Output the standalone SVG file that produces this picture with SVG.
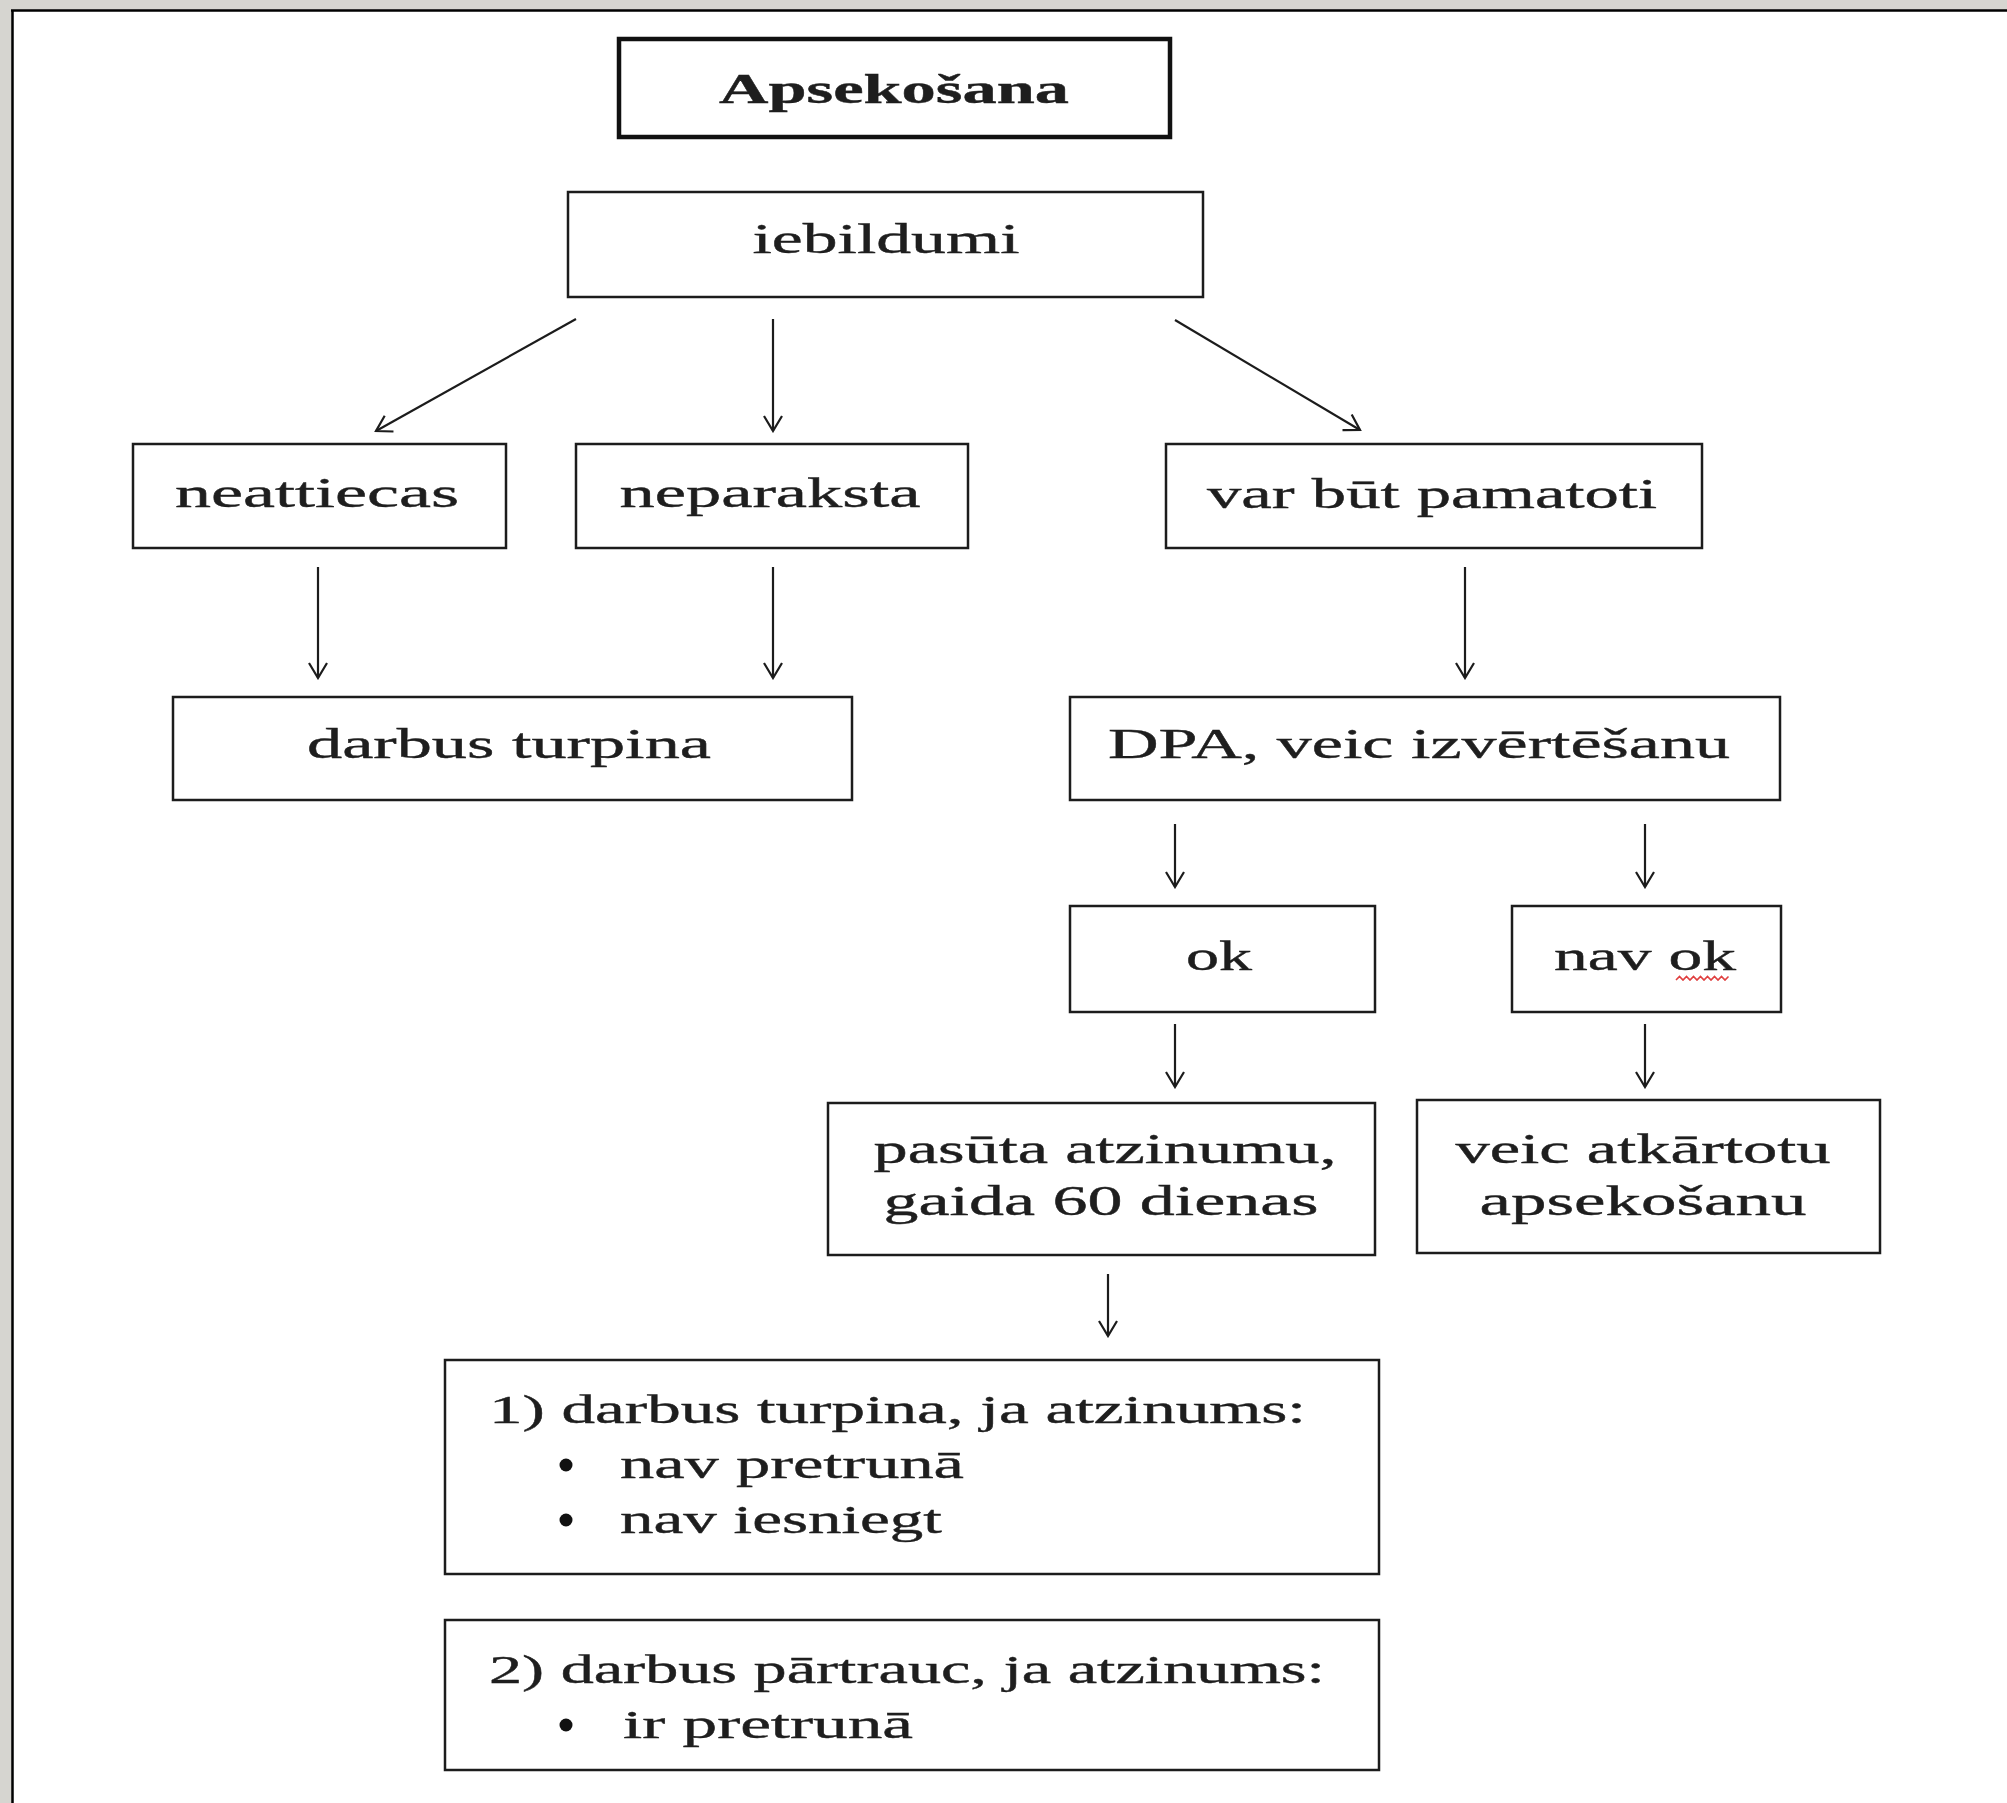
<svg xmlns="http://www.w3.org/2000/svg" width="2007" height="1803" viewBox="0 0 2007 1803">
<defs>
<style>
.box{fill:#fff;stroke:#1c1c1c;stroke-width:2.5}
.t{font-family:"Liberation Serif","Times New Roman",serif;font-size:42px;fill:#1e1e1e;stroke:#1e1e1e;stroke-width:0.4;text-anchor:middle}
.l{font-family:"Liberation Serif","Times New Roman",serif;font-size:41px;fill:#1e1e1e;stroke:#1e1e1e;stroke-width:0.4}
.c{fill:none;stroke:#1c1c1c;stroke-width:2.2;marker-end:url(#ah)}
</style>
<marker id="ah" viewBox="-17 -11 19 22" markerWidth="19" markerHeight="22" refX="0" refY="0" orient="auto" markerUnits="userSpaceOnUse">
<path d="M-15,-9 L0,0 L-15,9" fill="none" stroke="#1c1c1c" stroke-width="2.2"/>
</marker>
</defs>
<rect x="0" y="0" width="2007" height="1803" fill="#d6d5d0"/>
<rect x="12" y="10" width="1995" height="1793" fill="#ffffff"/>
<path d="M11,10.5 H2007 M12.5,10 V1803" stroke="#000" stroke-width="2.5" fill="none"/>

<g id="connectors">
<line class="c" x1="576" y1="319" x2="376" y2="431"/>
<line class="c" x1="773" y1="319" x2="773" y2="431"/>
<line class="c" x1="1175" y1="320" x2="1360" y2="430"/>
<line class="c" x1="318" y1="567" x2="318" y2="678"/>
<line class="c" x1="773" y1="567" x2="773" y2="678"/>
<line class="c" x1="1465" y1="567" x2="1465" y2="678"/>
<line class="c" x1="1175" y1="824" x2="1175" y2="887"/>
<line class="c" x1="1645" y1="824" x2="1645" y2="887"/>
<line class="c" x1="1175" y1="1024" x2="1175" y2="1087"/>
<line class="c" x1="1645" y1="1024" x2="1645" y2="1087"/>
<line class="c" x1="1108" y1="1274" x2="1108" y2="1336"/>
</g>

<g id="n-apsekosana">
<rect x="619" y="39" width="551" height="98" fill="#fff" stroke="#111" stroke-width="4.5"/>
<text class="t" x="894" y="103" font-weight="bold" font-size="38" textLength="350" lengthAdjust="spacingAndGlyphs">Apsekošana</text>
</g>
<g id="n-iebildumi">
<rect class="box" x="568" y="192" width="635" height="105"/>
<text class="t" x="886" y="253" textLength="267" lengthAdjust="spacingAndGlyphs">iebildumi</text>
</g>
<g id="n-neattiecas">
<rect class="box" x="133" y="444" width="373" height="104"/>
<text class="t" x="317" y="507" textLength="284" lengthAdjust="spacingAndGlyphs">neattiecas</text>
</g>
<g id="n-neparaksta">
<rect class="box" x="576" y="444" width="392" height="104"/>
<text class="t" x="770" y="507" textLength="301" lengthAdjust="spacingAndGlyphs">neparaksta</text>
</g>
<g id="n-varbut">
<rect class="box" x="1166" y="444" width="536" height="104"/>
<text class="t" x="1432" y="508" textLength="450" lengthAdjust="spacingAndGlyphs">var būt pamatoti</text>
</g>
<g id="n-darbus">
<rect class="box" x="173" y="697" width="679" height="103"/>
<text class="t" x="509" y="758" textLength="404" lengthAdjust="spacingAndGlyphs">darbus turpina</text>
</g>
<g id="n-dpa">
<rect class="box" x="1070" y="697" width="710" height="103"/>
<text class="t" x="1419" y="758" textLength="622" lengthAdjust="spacingAndGlyphs">DPA, veic izvērtēšanu</text>
</g>
<g id="n-ok">
<rect class="box" x="1070" y="906" width="305" height="106"/>
<text class="t" x="1219" y="970" textLength="66" lengthAdjust="spacingAndGlyphs">ok</text>
</g>
<g id="n-navok">
<rect class="box" x="1512" y="906" width="269" height="106"/>
<text class="t" x="1645" y="970" textLength="182" lengthAdjust="spacingAndGlyphs">nav ok</text>
<path d="M1676,980 l3.5,-3.5 l3.5,3.5 l3.5,-3.5 l3.5,3.5 l3.5,-3.5 l3.5,3.5 l3.5,-3.5 l3.5,3.5 l3.5,-3.5 l3.5,3.5 l3.5,-3.5 l3.5,3.5 l3.5,-3.5 l3.5,3.5 l3.5,-3.5" fill="none" stroke="#e04040" stroke-width="1.6"/>
</g>
<g id="n-pasuta">
<rect class="box" x="828" y="1103" width="547" height="152"/>
<text class="t" x="1105" y="1163" textLength="463" lengthAdjust="spacingAndGlyphs">pasūta atzinumu,</text>
<text class="t" x="1101" y="1215" textLength="435" lengthAdjust="spacingAndGlyphs">gaida 60 dienas</text>
</g>
<g id="n-veic">
<rect class="box" x="1417" y="1100" width="463" height="153"/>
<text class="t" x="1643" y="1163" textLength="375" lengthAdjust="spacingAndGlyphs">veic atkārtotu</text>
<text class="t" x="1643" y="1215" textLength="327" lengthAdjust="spacingAndGlyphs">apsekošanu</text>
</g>
<g id="n-box1">
<rect class="box" x="445" y="1360" width="934" height="214"/>
<text class="l" x="489" y="1423" textLength="817" lengthAdjust="spacingAndGlyphs">1) darbus turpina, ja atzinums:</text>
<circle cx="566" cy="1465" r="6.5" fill="#111"/>
<text class="l" x="620" y="1478" textLength="344" lengthAdjust="spacingAndGlyphs">nav pretrunā</text>
<circle cx="566" cy="1520" r="6.5" fill="#111"/>
<text class="l" x="620" y="1533" textLength="322" lengthAdjust="spacingAndGlyphs">nav iesniegt</text>
</g>
<g id="n-box2">
<rect class="box" x="445" y="1620" width="934" height="150"/>
<text class="l" x="489" y="1683" textLength="836" lengthAdjust="spacingAndGlyphs">2) darbus pārtrauc, ja atzinums:</text>
<circle cx="566" cy="1725" r="6.5" fill="#111"/>
<text class="l" x="623" y="1738" textLength="290" lengthAdjust="spacingAndGlyphs">ir pretrunā</text>
</g>
</svg>
